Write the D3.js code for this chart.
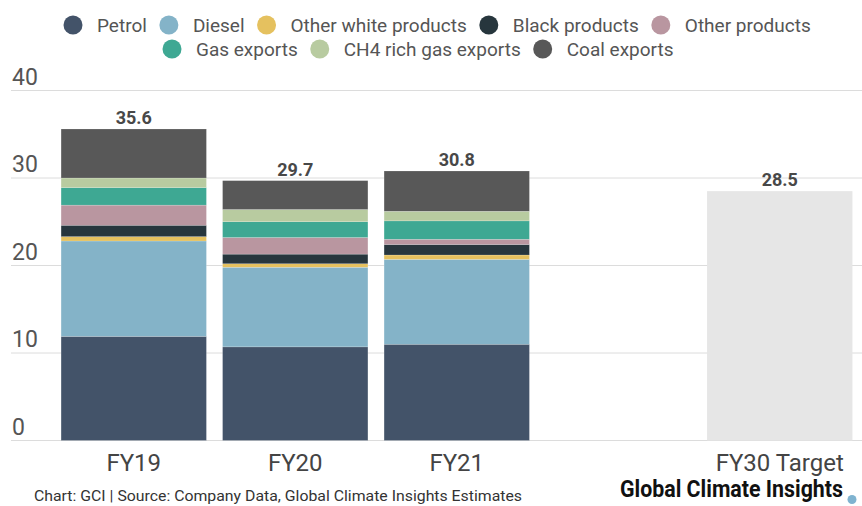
<!DOCTYPE html>
<html>
<head>
<meta charset="utf-8">
<script src="https://cdn.jsdelivr.net/npm/d3@7"></script>
<style>
  html, body { margin: 0; padding: 0; background: #fff; }
  svg { display: block; font-family: Roboto, "Noto Sans", sans-serif; }
</style>
</head>
<body>
<svg id="chart" width="862" height="506"></svg>
<script>
// Emissions by product stream, FY19–FY21, with the FY30 target
const categories = ["FY19", "FY20", "FY21", "FY30 Target"];
const seriesNames = ["Petrol", "Diesel", "Other white products", "Black products",
  "Other products", "Gas exports", "CH4 rich gas exports", "Coal exports"];
const seriesColors = ["#435369", "#84b3c8", "#e5c15f", "#27363d",
  "#b996a0", "#3ea893", "#b8cba0", "#585858"];

const petrol = [11.9, 10.7, 11.0];
const diesel = [10.9, 9.1, 9.7];
const otherWhite = [0.5, 0.4, 0.5];
const blackProducts = [1.3, 1.1, 1.2];
const otherProducts = [2.3, 1.9, 0.6];
const gasExports = [2.0, 1.8, 2.1];
const ch4Exports = [1.1, 1.4, 1.1];
const coalExports = [5.6, 3.3, 4.6];
const totals = [35.6, 29.7, 30.8];
const targetValue = 28.5;

const yTicks = [0, 10, 20, 30, 40];

const seriesValues = [petrol, diesel, otherWhite, blackProducts,
  otherProducts, gasExports, ch4Exports, coalExports];

const svg = d3.select("#chart");
const W = 862;

// x: one spare slot between the actual years and the target
const xDomain = [categories[0], categories[1], categories[2], "__gap__", categories[3]];
const x = d3.scaleBand().domain(xDomain).range([53, 860.5])
  .paddingInner(0.1).paddingOuter(0.05);
const y = d3.scaleLinear().domain([0, 40]).range([440.5, 90.5]);

// gridlines + tick labels
const grid = svg.append("g");
grid.selectAll("line").data(yTicks).join("line")
  .attr("x1", 11).attr("x2", W)
  .attr("y1", d => y(d)).attr("y2", d => y(d))
  .attr("stroke", "#dcdcdc").attr("stroke-width", 1);
grid.selectAll("text").data(yTicks).join("text")
  .attr("x", 12).attr("y", d => y(d) - 6)
  .attr("font-size", 23).attr("fill", "#555")
  .text(d => d);

// stacked bars
const rows = categories.slice(0, 3).map((c, i) => {
  const r = { cat: c };
  seriesNames.forEach((s, k) => r[s] = seriesValues[k][i]);
  return r;
});
const stacked = d3.stack().keys(seriesNames)(rows);

const bars = svg.append("g");
stacked.forEach((layer, k) => {
  bars.append("g").attr("fill", seriesColors[k])
    .selectAll("rect").data(layer).join("rect")
    .attr("x", d => x(d.data.cat))
    .attr("width", x.bandwidth())
    .attr("y", d => y(d[1]))
    .attr("height", d => y(d[0]) - y(d[1]))
    .attr("stroke", "rgba(255,255,255,0.35)").attr("stroke-width", 0.5);
});

// target bar
svg.append("rect")
  .attr("x", x(categories[3])).attr("width", x.bandwidth())
  .attr("y", y(targetValue)).attr("height", y(0) - y(targetValue))
  .attr("fill", "#e6e6e6");

// value labels
const labelData = categories.slice(0, 3).map((c, i) => ({ cat: c, v: totals[i] }))
  .concat([{ cat: categories[3], v: targetValue }]);
svg.append("g").selectAll("text").data(labelData).join("text")
  .attr("x", d => x(d.cat) + x.bandwidth() / 2)
  .attr("y", d => y(d.v) - 5)
  .attr("text-anchor", "middle")
  .attr("font-size", 18).attr("font-weight", 700).attr("fill", "#484848")
  .text(d => d.v.toFixed(1));

// category labels
svg.append("g").selectAll("text").data(categories).join("text")
  .attr("x", d => x(d) + x.bandwidth() / 2)
  .attr("y", 471)
  .attr("text-anchor", "middle")
  .attr("font-size", 24).attr("fill", "#444")
  .text(d => d);

// legend, two centred rows
const legendRows = [[0, 1, 2, 3, 4], [5, 6, 7]];
const legendStart = [64, 163];
const legendY = [25, 49];
const legend = svg.append("g");
legendRows.forEach((row, ri) => {
  let cx = legendStart[ri] + 9;
  row.forEach(k => {
    legend.append("circle").attr("cx", cx).attr("cy", legendY[ri]).attr("r", 9.5)
      .attr("fill", seriesColors[k]);
    const t = legend.append("text").attr("x", cx + 24).attr("y", legendY[ri] + 6.5)
      .attr("font-size", 19).attr("fill", "#555").text(seriesNames[k]);
    const w = t.node().getComputedTextLength();
    cx = cx + 24 + w + 22;
  });
});

// footer
svg.append("text").attr("x", 34).attr("y", 501)
  .attr("font-size", 15).attr("fill", "#333")
  .attr("textLength", 488).attr("lengthAdjust", "spacingAndGlyphs")
  .text("Chart: GCI | Source: Company Data, Global Climate Insights Estimates");

svg.append("text").attr("x", 620).attr("y", 497)
  .attr("font-size", 23).attr("font-weight", 700).attr("fill", "#111")
  .attr("textLength", 223).attr("lengthAdjust", "spacingAndGlyphs")
  .text("Global Climate Insights");
svg.append("circle").attr("cx", 852).attr("cy", 499.5).attr("r", 4.5).attr("fill", "#7fb3d0");
</script>
</body>
</html>
